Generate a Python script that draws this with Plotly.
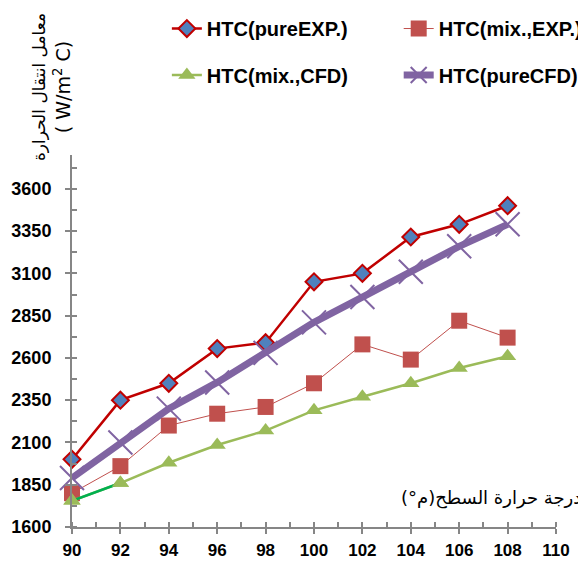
import plotly.graph_objects as go

temps = [90, 92, 94, 96, 98, 100, 102, 104, 106, 108]
htc_pure_exp = [2000, 2350, 2450, 2655, 2690, 3050, 3100, 3315, 3390, 3500]
htc_mix_exp = [1800, 1960, 2200, 2270, 2310, 2450, 2680, 2590, 2820, 2720]
htc_mix_cfd = [1755, 1860, 1980, 2085, 2170, 2290, 2370, 2450, 2540, 2610]
htc_pure_cfd = [1890, 2100, 2300, 2455, 2630, 2810, 2960, 3110, 3260, 3390]

names = ["HTC(pureEXP.)", "HTC(mix.,EXP.)", "HTC(mix.,CFD)", "HTC(pureCFD)"]
y_ticks = [1600, 1850, 2100, 2350, 2600, 2850, 3100, 3350, 3600]
x_ticks = [90, 92, 94, 96, 98, 100, 102, 104, 106, 108, 110]

RLM = "\u200F"
y_title = ("<span style='font-size:17px'>معامل انتقال الحرارة</span>"
           "<br>( W/m<sup>2</sup> C)")
x_title = RLM + "درجة حرارة السطح(م°)" + RLM

fig = go.Figure()

fig.add_trace(go.Scatter(
    x=temps, y=htc_pure_exp, name=names[0], mode="lines+markers", cliponaxis=False,
    line=dict(color="#C00000", width=2.5),
    marker=dict(symbol="diamond", size=13, color="#4F81BD",
                line=dict(color="#C00000", width=2)),
    legend="legend"))
fig.add_trace(go.Scatter(
    x=temps, y=htc_mix_exp, name=names[1], mode="lines+markers", cliponaxis=False,
    line=dict(color="#C0504D", width=1),
    marker=dict(symbol="square", size=16, color="#C0504D"),
    legend="legend2"))
fig.add_trace(go.Scatter(
    x=temps, y=htc_mix_cfd, name=names[2], mode="lines+markers", cliponaxis=False,
    line=dict(color="#9BBB59", width=2.5),
    marker=dict(symbol="triangle-up", size=15, color="#9BBB59"),
    legend="legend3"))
fig.add_trace(go.Scatter(
    x=temps[:2], y=htc_mix_cfd[:2], mode="lines+markers", showlegend=False,
    cliponaxis=False,
    line=dict(color="#00B050", width=2.5),
    marker=dict(symbol="triangle-up", size=15, color="#9BBB59"),
    hoverinfo="skip"))
fig.add_trace(go.Scatter(
    x=temps, y=htc_pure_cfd, name=names[3], mode="lines+markers", cliponaxis=False,
    line=dict(color="#8064A2", width=7),
    marker=dict(symbol="x-thin-open", size=24, color="#8064A2",
                line=dict(color="#8064A2", width=2)),
    legend="legend4"))

axis_col = "#868686"
tick_font = dict(family="Liberation Sans", size=18, color="black", weight="bold")
xtick_font = dict(family="Liberation Sans", size=17, color="black", weight="bold")
leg_font = dict(family="Liberation Sans", size=20, color="black", weight="bold")

def leg(x, y):
    return dict(orientation="v", x=x, y=y, xanchor="left", yanchor="middle",
                font=leg_font, bgcolor="rgba(0,0,0,0)", itemwidth=30)

# the page body has an 8px margin, so the figure is drawn 8px right/down
fig.update_layout(
    width=578, height=554,
    margin=dict(l=64, r=30, t=147, b=35, autoexpand=False),
    paper_bgcolor="white", plot_bgcolor="white",
    showlegend=True,
    xaxis=dict(range=[90, 110], tickvals=x_ticks, ticktext=[str(v) for v in x_ticks],
               showgrid=False, zeroline=False, showline=True, linecolor=axis_col,
               linewidth=2, ticks="outside", ticklen=5, tickwidth=1.5, tickcolor=axis_col,
               tickfont=xtick_font, ticklabelstandoff=2, automargin=False,
               minor=dict(dtick=1, ticks="inside", ticklen=5, tickwidth=1.5,
                          tickcolor=axis_col, showgrid=False)),
    yaxis=dict(range=[1600, 3800], tickvals=y_ticks, ticktext=[str(v) for v in y_ticks],
               showgrid=False, zeroline=False, showline=True, linecolor=axis_col,
               linewidth=2, ticks="outside", ticklen=5, tickwidth=1.5, tickcolor=axis_col,
               tickfont=tick_font, ticklabelstandoff=10, automargin=False,
               minor=dict(dtick=125, tick0=1600, ticks="inside", ticklen=5, tickwidth=1.5,
                          tickcolor=axis_col, showgrid=False)),
    xaxis2=dict(range=[90, 110], overlaying="x", tickvals=x_ticks, showticklabels=False,
                ticks="inside", ticklen=5, tickwidth=1.5, tickcolor=axis_col,
                showgrid=False, zeroline=False, showline=False, automargin=False),
    yaxis2=dict(range=[1600, 3800], overlaying="y", tickvals=y_ticks, showticklabels=False,
                ticks="inside", ticklen=5, tickwidth=1.5, tickcolor=axis_col,
                showgrid=False, zeroline=False, showline=False, automargin=False),
    legend=leg(0.196, 1.34),
    legend2=leg(0.675, 1.34),
    legend3=leg(0.196, 1.215),
    legend4=leg(0.675, 1.215),
    annotations=[
        dict(text=y_title, xref="paper", yref="paper", x=-0.041, y=1.183,
             xanchor="center", yanchor="middle", textangle=-90, showarrow=False,
             font=dict(family="DejaVu Sans", size=19, color="black")),
        dict(text=x_title, xref="paper", yref="paper", x=1.056, y=0.078,
             xanchor="right", yanchor="middle", showarrow=False,
             font=dict(family="DejaVu Sans", size=18, color="black")),
    ],
)

fig.add_trace(go.Scatter(x=[None], y=[None], xaxis="x2", yaxis="y2", showlegend=False,
                         hoverinfo="skip"))

fig.write_html("out.html")
